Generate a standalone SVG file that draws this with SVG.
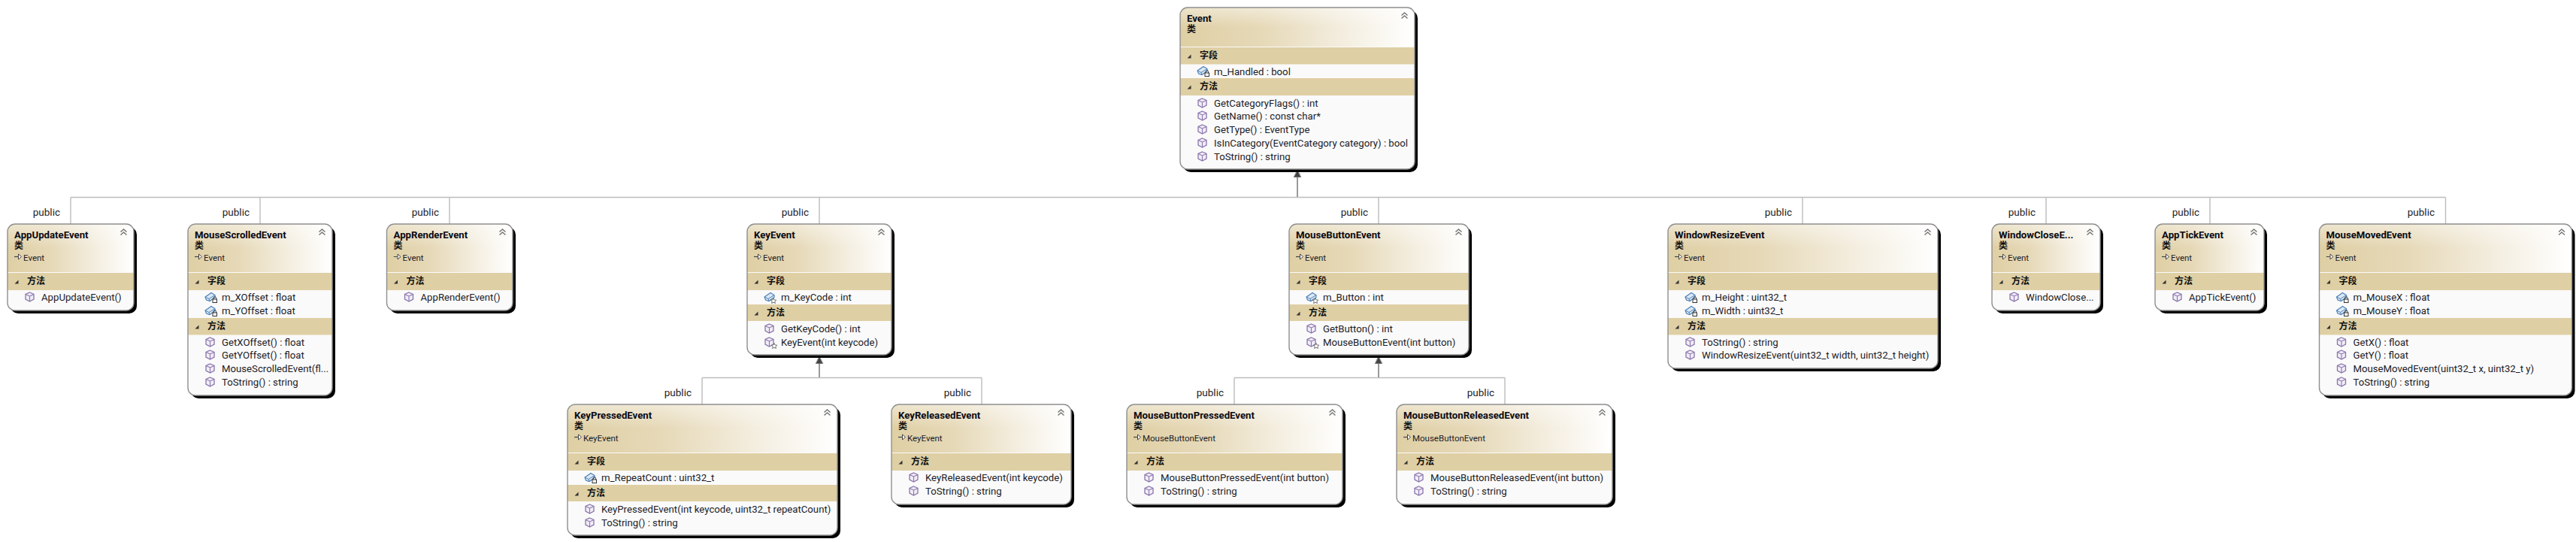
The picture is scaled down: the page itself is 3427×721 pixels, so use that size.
<svg xmlns="http://www.w3.org/2000/svg" width="3427" height="721" viewBox="0 0 3427 721">
<style>
text{font-family:Roboto,"Noto Sans","Noto Sans CJK SC",sans-serif;fill:#1c1c28}
.ttl{font-size:13.2px;font-weight:700;fill:#0a0a14}
.kind{font-size:12px;font-weight:700;font-family:"Noto Sans CJK SC",sans-serif;fill:#111}
.base{font-size:11.5px}
.sec{font-size:12px;font-weight:700;font-family:"Noto Sans CJK SC",sans-serif;fill:#111}
.mem{font-size:13.2px}
.lbl{font-size:13.5px}
.shadow{fill:#000}
.body{fill:#fafafa}
.head{fill:url(#hg)}
.gloss{fill:url(#gl)}
.band{fill:#dfcfa4}
.edge{fill:none;stroke:#8f8f8f;stroke-width:1.4}
.conn{fill:none;stroke:#bdbdbd;stroke-width:1.4}
.stem{fill:none;stroke:#9a9a9a;stroke-width:2;marker-end:url(#inh)}
</style>
<defs>
<linearGradient id="hg" x1="0" y1="0" x2="1" y2="0"><stop offset="0" stop-color="#dfcfa4"/><stop offset=".35" stop-color="#e6d9b8"/><stop offset=".7" stop-color="#f4eee0"/><stop offset="1" stop-color="#ffffff"/></linearGradient>
<linearGradient id="gl" x1="0" y1="0" x2="0" y2="1"><stop offset="0" stop-color="#fff" stop-opacity=".45"/><stop offset=".5" stop-color="#fff" stop-opacity="0"/></linearGradient>
<marker id="inh" markerUnits="userSpaceOnUse" markerWidth="14" markerHeight="14" refX="0" refY="7" orient="auto" viewBox="0 0 14 14"><path d="M0,2 L10,7 L0,12Z" fill="#444" stroke="#999"/></marker>
<symbol id="tri" width="6" height="6" viewBox="0 0 6 6"><path d="M5.500,.5V5.500H.5Z" fill="#333"/></symbol>
<symbol id="chev" width="11" height="10" viewBox="0 0 11 10"><path d="M1.500,4.500 5.500,1 9.500,4.500M1.500,8.500 5.500,5 9.500,8.500" fill="none" stroke="#777" stroke-width="1.500"/></symbol>
<symbol id="arr" width="11" height="9" viewBox="0 0 11 9"><path d="M0,4.500H5" stroke="#444" stroke-width="1.200"/><path d="M5.500,1 9.500,4.500 5.500,8Z" fill="#fff" stroke="#444"/></symbol>
<g id="cube"><path d="M6.500,1 12,3.500V10L6.500,13 1,10V3.500Z" fill="#f1edf6" stroke="#8a76ad" stroke-width="1.300"/><path d="M1,3.500 6.500,6 12,3.500M6.500,6V13" fill="none" stroke="#8a76ad" stroke-width="1.100"/></g>
<g id="box"><path d="M1,7 9,1.500 14,4.500 14,7.500 7,12.500 2.500,11Z" fill="#dce8f4" stroke="#4d82b8" stroke-width="1.200"/><path d="M1,7 6,9.500 14,4.500M6,9.500 7,12.500" fill="none" stroke="#4d82b8"/></g>
<g id="lock"><rect x="11" y="10" width="5.500" height="4.500" fill="#fff" stroke="#333"/><path d="M12,10V8.500a1.700,1.700 0 0 1 3.500,0V10" fill="none" stroke="#333"/></g>
<path id="star" d="M13,8.500 14.200,11 16.800,11.200 14.800,13 15.400,15.500 13,14.200 10.600,15.500 11.200,13 9.200,11.200 11.800,11Z" fill="#fff" stroke="#555" stroke-width=".8"/>
<symbol id="m" width="18" height="16" viewBox="0 0 18 16" overflow="visible"><use href="#cube"/></symbol>
<symbol id="mp" width="18" height="16" viewBox="0 0 18 16" overflow="visible"><use href="#cube"/><use href="#star"/></symbol>
<symbol id="fl" width="18" height="16" viewBox="0 0 18 16" overflow="visible"><use href="#box"/><use href="#lock"/></symbol>
<symbol id="fp" width="18" height="16" viewBox="0 0 18 16" overflow="visible"><use href="#box"/><use href="#star"/></symbol>
</defs>
<rect width="3427" height="721" fill="#fff"/>
<g id="connectors">
<path class="conn" d="M94,262.500H3253.500M94,262.500V298M346,262.500V298M598,262.500V298M1090,262.500V298M1834,262.500V298M2398,262.500V298M2722,262.500V298M2940,262.500V298M3253.500,262.500V298"/>
<path class="conn" d="M934,502.500H1306M934,502.500V538M1306,502.500V538M1642,502.500H2002M1642,502.500V538M2002,502.500V538"/>
<path class="stem" d="M1726,262V236"/>
<path class="stem" d="M1090,502V484"/>
<path class="stem" d="M1834,502V484"/>
<g class="lbls">
<text class="lbl" x="80" y="287" text-anchor="end">public</text>
<text class="lbl" x="332" y="287" text-anchor="end">public</text>
<text class="lbl" x="584" y="287" text-anchor="end">public</text>
<text class="lbl" x="1076" y="287" text-anchor="end">public</text>
<text class="lbl" x="1820" y="287" text-anchor="end">public</text>
<text class="lbl" x="2384" y="287" text-anchor="end">public</text>
<text class="lbl" x="2708" y="287" text-anchor="end">public</text>
<text class="lbl" x="2926" y="287" text-anchor="end">public</text>
<text class="lbl" x="3239" y="287" text-anchor="end">public</text>
<text class="lbl" x="920" y="527" text-anchor="end">public</text>
<text class="lbl" x="1292" y="527" text-anchor="end">public</text>
<text class="lbl" x="1628" y="527" text-anchor="end">public</text>
<text class="lbl" x="1988" y="527" text-anchor="end">public</text>
</g>
</g>
<g id="Event">
<rect class="shadow" x="1574" y="14" width="312" height="215" rx="10"/>
<rect class="body" x="1570" y="10" width="312" height="215" rx="10"/>
<path class="head" d="M1570,62V20a10,10 0 0 1 10,-10H1872a10,10 0 0 1 10,10V62Z"/><path class="gloss" d="M1570,62V20a10,10 0 0 1 10,-10H1872a10,10 0 0 1 10,10V62Z"/>
<rect class="band" x="1570" y="63" width="312" height="22.500"/><rect class="band" x="1570" y="104" width="312" height="23"/>
<rect class="edge" x="1570" y="10" width="312" height="215" rx="10"/>
<use href="#chev" x="1863" y="16"/>
<text class="ttl" x="1579" y="28.500">Event</text><text class="kind" x="1579" y="43">类</text>
<use href="#tri" x="1579" y="72"/><text class="sec" x="1596" y="78">字段</text>
<use href="#fl" x="1592" y="87"/><text class="mem" x="1615" y="99.500">m_Handled : bool</text>
<use href="#tri" x="1579" y="113"/><text class="sec" x="1596" y="119">方法</text>
<use href="#m" x="1593" y="130"/><text class="mem" x="1615" y="141.500">GetCategoryFlags() : int</text>
<use href="#m" x="1593" y="147"/><text class="mem" x="1615" y="158.500">GetName() : const char*</text>
<use href="#m" x="1593" y="165"/><text class="mem" x="1615" y="176.500">GetType() : EventType</text>
<use href="#m" x="1593" y="183"/><text class="mem" x="1615" y="194.500">IsInCategory(EventCategory category) : bool</text>
<use href="#m" x="1593" y="201"/><text class="mem" x="1615" y="212.500">ToString() : string</text>
</g>
<g id="AppUpdateEvent">
<rect class="shadow" x="14" y="302" width="168" height="115" rx="10"/>
<rect class="body" x="10" y="298" width="168" height="115" rx="10"/>
<path class="head" d="M10,362V308a10,10 0 0 1 10,-10H168a10,10 0 0 1 10,10V362Z"/><path class="gloss" d="M10,362V308a10,10 0 0 1 10,-10H168a10,10 0 0 1 10,10V362Z"/>
<rect class="band" x="10" y="363" width="168" height="23"/>
<rect class="edge" x="10" y="298" width="168" height="115" rx="10"/>
<use href="#chev" x="159" y="304"/>
<text class="ttl" x="19" y="316.500">AppUpdateEvent</text><text class="kind" x="19" y="331">类</text>
<use href="#arr" x="19" y="337"/><text class="base" x="31" y="347">Event</text>
<use href="#tri" x="19" y="372"/><text class="sec" x="36" y="378">方法</text>
<use href="#m" x="33" y="388"/><text class="mem" x="55" y="399.500">AppUpdateEvent()</text>
</g>
<g id="MouseScrolledEvent">
<rect class="shadow" x="254" y="302" width="192" height="228" rx="10"/>
<rect class="body" x="250" y="298" width="192" height="228" rx="10"/>
<path class="head" d="M250,362V308a10,10 0 0 1 10,-10H432a10,10 0 0 1 10,10V362Z"/><path class="gloss" d="M250,362V308a10,10 0 0 1 10,-10H432a10,10 0 0 1 10,10V362Z"/>
<rect class="band" x="250" y="363" width="192" height="23"/><rect class="band" x="250" y="423" width="192" height="22.500"/>
<rect class="edge" x="250" y="298" width="192" height="228" rx="10"/>
<use href="#chev" x="423" y="304"/>
<text class="ttl" x="259" y="316.500">MouseScrolledEvent</text><text class="kind" x="259" y="331">类</text>
<use href="#arr" x="259" y="337"/><text class="base" x="271" y="347">Event</text>
<use href="#tri" x="259" y="372"/><text class="sec" x="276" y="378">字段</text>
<use href="#fl" x="272" y="388"/><text class="mem" x="295" y="399.500">m_XOffset : float</text>
<use href="#fl" x="272" y="406"/><text class="mem" x="295" y="417.500">m_YOffset : float</text>
<use href="#tri" x="259" y="432"/><text class="sec" x="276" y="438">方法</text>
<use href="#m" x="273" y="448"/><text class="mem" x="295" y="459.500">GetXOffset() : float</text>
<use href="#m" x="273" y="465"/><text class="mem" x="295" y="476.500">GetYOffset() : float</text>
<use href="#m" x="273" y="483"/><text class="mem" x="295" y="494.500">MouseScrolledEvent(fl...</text>
<use href="#m" x="273" y="501"/><text class="mem" x="295" y="512.500">ToString() : string</text>
</g>
<g id="AppRenderEvent">
<rect class="shadow" x="518.500" y="302" width="167.500" height="115" rx="10"/>
<rect class="body" x="514.500" y="298" width="167.500" height="115" rx="10"/>
<path class="head" d="M514.500,362V308a10,10 0 0 1 10,-10H672a10,10 0 0 1 10,10V362Z"/><path class="gloss" d="M514.500,362V308a10,10 0 0 1 10,-10H672a10,10 0 0 1 10,10V362Z"/>
<rect class="band" x="514.500" y="363" width="167.500" height="23"/>
<rect class="edge" x="514.500" y="298" width="167.500" height="115" rx="10"/>
<use href="#chev" x="663" y="304"/>
<text class="ttl" x="523.500" y="316.500">AppRenderEvent</text><text class="kind" x="523.500" y="331">类</text>
<use href="#arr" x="523.500" y="337"/><text class="base" x="535.500" y="347">Event</text>
<use href="#tri" x="523.500" y="372"/><text class="sec" x="540.500" y="378">方法</text>
<use href="#m" x="537.500" y="388"/><text class="mem" x="559.500" y="399.500">AppRenderEvent()</text>
</g>
<g id="KeyEvent">
<rect class="shadow" x="998" y="302" width="192" height="174" rx="10"/>
<rect class="body" x="994" y="298" width="192" height="174" rx="10"/>
<path class="head" d="M994,362V308a10,10 0 0 1 10,-10H1176a10,10 0 0 1 10,10V362Z"/><path class="gloss" d="M994,362V308a10,10 0 0 1 10,-10H1176a10,10 0 0 1 10,10V362Z"/>
<rect class="band" x="994" y="363" width="192" height="23"/><rect class="band" x="994" y="405" width="192" height="22"/>
<rect class="edge" x="994" y="298" width="192" height="174" rx="10"/>
<use href="#chev" x="1167" y="304"/>
<text class="ttl" x="1003" y="316.500">KeyEvent</text><text class="kind" x="1003" y="331">类</text>
<use href="#arr" x="1003" y="337"/><text class="base" x="1015" y="347">Event</text>
<use href="#tri" x="1003" y="372"/><text class="sec" x="1020" y="378">字段</text>
<use href="#fp" x="1016" y="388"/><text class="mem" x="1039" y="399.500">m_KeyCode : int</text>
<use href="#tri" x="1003" y="414"/><text class="sec" x="1020" y="420">方法</text>
<use href="#m" x="1017" y="430"/><text class="mem" x="1039" y="441.500">GetKeyCode() : int</text>
<use href="#mp" x="1017" y="448"/><text class="mem" x="1039" y="459.500">KeyEvent(int keycode)</text>
</g>
<g id="MouseButtonEvent">
<rect class="shadow" x="1719" y="302" width="239" height="174" rx="10"/>
<rect class="body" x="1715" y="298" width="239" height="174" rx="10"/>
<path class="head" d="M1715,362V308a10,10 0 0 1 10,-10H1944a10,10 0 0 1 10,10V362Z"/><path class="gloss" d="M1715,362V308a10,10 0 0 1 10,-10H1944a10,10 0 0 1 10,10V362Z"/>
<rect class="band" x="1715" y="363" width="239" height="23"/><rect class="band" x="1715" y="405" width="239" height="22"/>
<rect class="edge" x="1715" y="298" width="239" height="174" rx="10"/>
<use href="#chev" x="1935" y="304"/>
<text class="ttl" x="1724" y="316.500">MouseButtonEvent</text><text class="kind" x="1724" y="331">类</text>
<use href="#arr" x="1724" y="337"/><text class="base" x="1736" y="347">Event</text>
<use href="#tri" x="1724" y="372"/><text class="sec" x="1741" y="378">字段</text>
<use href="#fp" x="1737" y="388"/><text class="mem" x="1760" y="399.500">m_Button : int</text>
<use href="#tri" x="1724" y="414"/><text class="sec" x="1741" y="420">方法</text>
<use href="#m" x="1738" y="430"/><text class="mem" x="1760" y="441.500">GetButton() : int</text>
<use href="#mp" x="1738" y="448"/><text class="mem" x="1760" y="459.500">MouseButtonEvent(int button)</text>
</g>
<g id="WindowResizeEvent">
<rect class="shadow" x="2223" y="302" width="359" height="192" rx="10"/>
<rect class="body" x="2219" y="298" width="359" height="192" rx="10"/>
<path class="head" d="M2219,362V308a10,10 0 0 1 10,-10H2568a10,10 0 0 1 10,10V362Z"/><path class="gloss" d="M2219,362V308a10,10 0 0 1 10,-10H2568a10,10 0 0 1 10,10V362Z"/>
<rect class="band" x="2219" y="363" width="359" height="23"/><rect class="band" x="2219" y="423" width="359" height="22.500"/>
<rect class="edge" x="2219" y="298" width="359" height="192" rx="10"/>
<use href="#chev" x="2559" y="304"/>
<text class="ttl" x="2228" y="316.500">WindowResizeEvent</text><text class="kind" x="2228" y="331">类</text>
<use href="#arr" x="2228" y="337"/><text class="base" x="2240" y="347">Event</text>
<use href="#tri" x="2228" y="372"/><text class="sec" x="2245" y="378">字段</text>
<use href="#fl" x="2241" y="388"/><text class="mem" x="2264" y="399.500">m_Height : uint32_t</text>
<use href="#fl" x="2241" y="406"/><text class="mem" x="2264" y="417.500">m_Width : uint32_t</text>
<use href="#tri" x="2228" y="432"/><text class="sec" x="2245" y="438">方法</text>
<use href="#m" x="2242" y="448"/><text class="mem" x="2264" y="459.500">ToString() : string</text>
<use href="#m" x="2242" y="465"/><text class="mem" x="2264" y="476.500">WindowResizeEvent(uint32_t width, uint32_t height)</text>
</g>
<g id="WindowCloseEvent">
<rect class="shadow" x="2654" y="302" width="144" height="115" rx="10"/>
<rect class="body" x="2650" y="298" width="144" height="115" rx="10"/>
<path class="head" d="M2650,362V308a10,10 0 0 1 10,-10H2784a10,10 0 0 1 10,10V362Z"/><path class="gloss" d="M2650,362V308a10,10 0 0 1 10,-10H2784a10,10 0 0 1 10,10V362Z"/>
<rect class="band" x="2650" y="363" width="144" height="23"/>
<rect class="edge" x="2650" y="298" width="144" height="115" rx="10"/>
<use href="#chev" x="2775" y="304"/>
<text class="ttl" x="2659" y="316.500">WindowCloseE...</text><text class="kind" x="2659" y="331">类</text>
<use href="#arr" x="2659" y="337"/><text class="base" x="2671" y="347">Event</text>
<use href="#tri" x="2659" y="372"/><text class="sec" x="2676" y="378">方法</text>
<use href="#m" x="2673" y="388"/><text class="mem" x="2695" y="399.500">WindowClose...</text>
</g>
<g id="AppTickEvent">
<rect class="shadow" x="2871" y="302" width="145" height="115" rx="10"/>
<rect class="body" x="2867" y="298" width="145" height="115" rx="10"/>
<path class="head" d="M2867,362V308a10,10 0 0 1 10,-10H3002a10,10 0 0 1 10,10V362Z"/><path class="gloss" d="M2867,362V308a10,10 0 0 1 10,-10H3002a10,10 0 0 1 10,10V362Z"/>
<rect class="band" x="2867" y="363" width="145" height="23"/>
<rect class="edge" x="2867" y="298" width="145" height="115" rx="10"/>
<use href="#chev" x="2993" y="304"/>
<text class="ttl" x="2876" y="316.500">AppTickEvent</text><text class="kind" x="2876" y="331">类</text>
<use href="#arr" x="2876" y="337"/><text class="base" x="2888" y="347">Event</text>
<use href="#tri" x="2876" y="372"/><text class="sec" x="2893" y="378">方法</text>
<use href="#m" x="2890" y="388"/><text class="mem" x="2912" y="399.500">AppTickEvent()</text>
</g>
<g id="MouseMovedEvent">
<rect class="shadow" x="3089.500" y="302" width="336" height="228" rx="10"/>
<rect class="body" x="3085.500" y="298" width="336" height="228" rx="10"/>
<path class="head" d="M3085.500,362V308a10,10 0 0 1 10,-10H3411.500a10,10 0 0 1 10,10V362Z"/><path class="gloss" d="M3085.500,362V308a10,10 0 0 1 10,-10H3411.500a10,10 0 0 1 10,10V362Z"/>
<rect class="band" x="3085.500" y="363" width="336" height="23"/><rect class="band" x="3085.500" y="423" width="336" height="22.500"/>
<rect class="edge" x="3085.500" y="298" width="336" height="228" rx="10"/>
<use href="#chev" x="3402.500" y="304"/>
<text class="ttl" x="3094.500" y="316.500">MouseMovedEvent</text><text class="kind" x="3094.500" y="331">类</text>
<use href="#arr" x="3094.500" y="337"/><text class="base" x="3106.500" y="347">Event</text>
<use href="#tri" x="3094.500" y="372"/><text class="sec" x="3111.500" y="378">字段</text>
<use href="#fl" x="3107.500" y="388"/><text class="mem" x="3130.500" y="399.500">m_MouseX : float</text>
<use href="#fl" x="3107.500" y="406"/><text class="mem" x="3130.500" y="417.500">m_MouseY : float</text>
<use href="#tri" x="3094.500" y="432"/><text class="sec" x="3111.500" y="438">方法</text>
<use href="#m" x="3108.500" y="448"/><text class="mem" x="3130.500" y="459.500">GetX() : float</text>
<use href="#m" x="3108.500" y="465"/><text class="mem" x="3130.500" y="476.500">GetY() : float</text>
<use href="#m" x="3108.500" y="483"/><text class="mem" x="3130.500" y="494.500">MouseMovedEvent(uint32_t x, uint32_t y)</text>
<use href="#m" x="3108.500" y="501"/><text class="mem" x="3130.500" y="512.500">ToString() : string</text>
</g>
<g id="KeyPressedEvent">
<rect class="shadow" x="759" y="542" width="359" height="174" rx="10"/>
<rect class="body" x="755" y="538" width="359" height="174" rx="10"/>
<path class="head" d="M755,602V548a10,10 0 0 1 10,-10H1104a10,10 0 0 1 10,10V602Z"/><path class="gloss" d="M755,602V548a10,10 0 0 1 10,-10H1104a10,10 0 0 1 10,10V602Z"/>
<rect class="band" x="755" y="603" width="359" height="23"/><rect class="band" x="755" y="645" width="359" height="22"/>
<rect class="edge" x="755" y="538" width="359" height="174" rx="10"/>
<use href="#chev" x="1095" y="544"/>
<text class="ttl" x="764" y="556.500">KeyPressedEvent</text><text class="kind" x="764" y="571">类</text>
<use href="#arr" x="764" y="577"/><text class="base" x="776" y="587">KeyEvent</text>
<use href="#tri" x="764" y="612"/><text class="sec" x="781" y="618">字段</text>
<use href="#fl" x="777" y="628"/><text class="mem" x="800" y="639.500">m_RepeatCount : uint32_t</text>
<use href="#tri" x="764" y="654"/><text class="sec" x="781" y="660">方法</text>
<use href="#m" x="778" y="670"/><text class="mem" x="800" y="681.500">KeyPressedEvent(int keycode, uint32_t repeatCount)</text>
<use href="#m" x="778" y="688"/><text class="mem" x="800" y="699.500">ToString() : string</text>
</g>
<g id="KeyReleasedEvent">
<rect class="shadow" x="1190" y="542" width="239" height="133" rx="10"/>
<rect class="body" x="1186" y="538" width="239" height="133" rx="10"/>
<path class="head" d="M1186,602V548a10,10 0 0 1 10,-10H1415a10,10 0 0 1 10,10V602Z"/><path class="gloss" d="M1186,602V548a10,10 0 0 1 10,-10H1415a10,10 0 0 1 10,10V602Z"/>
<rect class="band" x="1186" y="603" width="239" height="23"/>
<rect class="edge" x="1186" y="538" width="239" height="133" rx="10"/>
<use href="#chev" x="1406" y="544"/>
<text class="ttl" x="1195" y="556.500">KeyReleasedEvent</text><text class="kind" x="1195" y="571">类</text>
<use href="#arr" x="1195" y="577"/><text class="base" x="1207" y="587">KeyEvent</text>
<use href="#tri" x="1195" y="612"/><text class="sec" x="1212" y="618">方法</text>
<use href="#m" x="1209" y="628"/><text class="mem" x="1231" y="639.500">KeyReleasedEvent(int keycode)</text>
<use href="#m" x="1209" y="646"/><text class="mem" x="1231" y="657.500">ToString() : string</text>
</g>
<g id="MouseButtonPressedEvent">
<rect class="shadow" x="1503" y="542" width="287" height="133" rx="10"/>
<rect class="body" x="1499" y="538" width="287" height="133" rx="10"/>
<path class="head" d="M1499,602V548a10,10 0 0 1 10,-10H1776a10,10 0 0 1 10,10V602Z"/><path class="gloss" d="M1499,602V548a10,10 0 0 1 10,-10H1776a10,10 0 0 1 10,10V602Z"/>
<rect class="band" x="1499" y="603" width="287" height="23"/>
<rect class="edge" x="1499" y="538" width="287" height="133" rx="10"/>
<use href="#chev" x="1767" y="544"/>
<text class="ttl" x="1508" y="556.500">MouseButtonPressedEvent</text><text class="kind" x="1508" y="571">类</text>
<use href="#arr" x="1508" y="577"/><text class="base" x="1520" y="587">MouseButtonEvent</text>
<use href="#tri" x="1508" y="612"/><text class="sec" x="1525" y="618">方法</text>
<use href="#m" x="1522" y="628"/><text class="mem" x="1544" y="639.500">MouseButtonPressedEvent(int button)</text>
<use href="#m" x="1522" y="646"/><text class="mem" x="1544" y="657.500">ToString() : string</text>
</g>
<g id="MouseButtonReleasedEvent">
<rect class="shadow" x="1862" y="542" width="287" height="133" rx="10"/>
<rect class="body" x="1858" y="538" width="287" height="133" rx="10"/>
<path class="head" d="M1858,602V548a10,10 0 0 1 10,-10H2135a10,10 0 0 1 10,10V602Z"/><path class="gloss" d="M1858,602V548a10,10 0 0 1 10,-10H2135a10,10 0 0 1 10,10V602Z"/>
<rect class="band" x="1858" y="603" width="287" height="23"/>
<rect class="edge" x="1858" y="538" width="287" height="133" rx="10"/>
<use href="#chev" x="2126" y="544"/>
<text class="ttl" x="1867" y="556.500">MouseButtonReleasedEvent</text><text class="kind" x="1867" y="571">类</text>
<use href="#arr" x="1867" y="577"/><text class="base" x="1879" y="587">MouseButtonEvent</text>
<use href="#tri" x="1867" y="612"/><text class="sec" x="1884" y="618">方法</text>
<use href="#m" x="1881" y="628"/><text class="mem" x="1903" y="639.500">MouseButtonReleasedEvent(int button)</text>
<use href="#m" x="1881" y="646"/><text class="mem" x="1903" y="657.500">ToString() : string</text>
</g>
</svg>
